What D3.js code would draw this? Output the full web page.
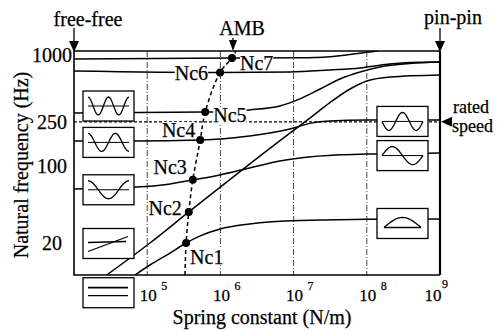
<!DOCTYPE html>
<meta charset="utf-8">
<style>
body { margin: 0; background: #fff; }
.curve { fill: none; stroke: #000; stroke-width: 1.5px; }
.grid { stroke: #333; stroke-width: 0.9px; stroke-dasharray: 6,2,1,2; }
</style>
<body>
<script src="https://cdn.jsdelivr.net/npm/d3@7"></script>
<script>

// natural frequency curves: [spring constant (N/m), frequency (Hz)]
var mode1 = [[6.8e4, 10.4], [1.09e5, 12.8], [2.05e5, 16.4], [3.4e5, 20.2], [5.3e5, 23.4], [9.9e5, 27], [2.5e6, 30], [1.22e7, 32.3], [1e8, 33], [1e9, 33.3]];
var mode2 = [[2.8e4, 10.4], [1.09e5, 20.2], [3.7e5, 38.5], [2.5e6, 104], [8.9e6, 198], [1.67e7, 270], [3.1e7, 370], [5.9e7, 494], [1e8, 583], [2.1e8, 634], [1e9, 661]];
var mode3 = [[1e4, 62], [4.2e4, 63.4], [1.5e5, 67], [4.2e5, 75], [9.9e5, 83], [2.5e6, 96], [6.5e6, 111], [1.22e7, 118], [4.3e7, 126], [1e8, 128], [1e9, 131]];
var mode4 = [[1e4, 168], [6.6e4, 168], [5.3e5, 171], [2.5e6, 186], [8.9e6, 215], [1.67e7, 242], [3.1e7, 254], [1e8, 259], [1e9, 259]];
var mode5 = [[1e4, 300], [6.2e5, 306], [2.5e6, 320], [6.5e6, 347], [1.22e7, 402], [2.3e7, 494], [4.3e7, 608], [8.1e7, 703], [1.51e8, 780], [3.9e8, 838], [1e9, 864]];
var mode6 = [[1e4, 718], [9.9e5, 695], [8.9e6, 703], [3.1e7, 733], [8.1e7, 764], [1.77e8, 821], [3.9e8, 856], [1e9, 864]];
var mode7 = [[1e4, 920], [1.44e6, 940], [1.22e7, 945], [3.1e7, 965], [5.9e7, 1010], [9.4e7, 1053], [1.42e8, 1087]];

// AMB stiffness line and critical speeds
var ambLine = [[3.28e5, 10.4], [3.4e5, 20.2], [3.7e5, 38.5], [4.2e5, 75], [5.3e5, 171], [6.2e5, 306], [9.9e5, 695], [1.44e6, 940], [1.63e6, 1087]];
var ncPoints = [[3.4e5, 20.2], [3.7e5, 38.5], [4.2e5, 75], [5.3e5, 171], [6.2e5, 306], [9.9e5, 695], [1.44e6, 940]];
var ncNames = ["Nc1", "Nc2", "Nc3", "Nc4", "Nc5", "Nc6", "Nc7"];
var ncOffsets = [[4, 21, "start"], [-7, 3, "end"], [-6, -6, "end"], [-5, -3, "end"], [8, 10, "start"], [-12, 7, "end"], [8, 12, "start"]];

var xTicks = [1e5, 1e6, 1e7, 1e8, 1e9];
var xTickExp = ["5", "6", "7", "8", "9"];
var yTicks = [20, 100, 250, 1000];
var ratedSpeed = 250;

// mode shape boxes: [side, frequency at box centre, shape]
var shapeBoxes = [
  ["L", 347, "w"], ["L", 163, "s"], ["L", 61, "u"], ["L", 20, "rigid"], ["L", 7.2, "flat"],
  ["R", 252, "p3"], ["R", 124, "p2"], ["R", 30.3, "p1"]
];

var width = 501, height = 331;
var serif = "'Liberation Serif', 'Times New Roman', Times, serif";

var x = d3.scaleLog().domain([1e4, 1e9]).range([74, 440]);
var y = d3.scaleLog().domain([10.4, 1087]).range([275, 51]);

var svg = d3.select("body").append("svg")
    .attr("width", width)
    .attr("height", height);

function label(sel, size) {
  return sel.attr("font-family", serif).attr("font-size", size)
      .style("fill", "#000").style("stroke", "#000").style("stroke-width", 0.25);
}

svg.append("defs").append("clipPath").attr("id", "plot")
  .append("rect")
    .attr("x", x(1e4)).attr("y", y(1087))
    .attr("width", x(1e9) - x(1e4)).attr("height", y(10.4) - y(1087));

// vertical grid at decades
svg.selectAll(".grid")
    .data(xTicks.slice(0, 4))
  .enter().append("line")
    .attr("class", "grid")
    .attr("x1", function(d) { return x(d); })
    .attr("x2", function(d) { return x(d); })
    .attr("y1", y(1087)).attr("y2", y(10.4));

// rated speed
svg.append("line")
    .attr("x1", x(1e4)).attr("x2", x(1e9))
    .attr("y1", y(ratedSpeed)).attr("y2", y(ratedSpeed))
    .style("stroke", "#000").style("stroke-width", 1.2)
    .style("stroke-dasharray", "3,2");

var line = d3.line()
    .x(function(d) { return x(d[0]); })
    .y(function(d) { return y(d[1]); })
    .curve(d3.curveMonotoneX);

var curves = svg.append("g").attr("clip-path", "url(#plot)");

curves.selectAll(".curve")
    .data([mode1, mode2, mode3, mode4, mode5, mode6, mode7])
  .enter().append("path")
    .attr("class", "curve")
    .attr("d", line);

curves.append("path")
    .datum(ambLine)
    .attr("d", d3.line()
        .x(function(d) { return x(d[0]); })
        .y(function(d) { return y(d[1]); })
        .curve(d3.curveCatmullRom.alpha(0.5)))
    .style("fill", "none").style("stroke", "#000")
    .style("stroke-width", 1.5).style("stroke-dasharray", "4,3");

// frame
var x0 = x(1e4), x1 = x(1e9), yTop = y(1087), yBot = y(10.4);
svg.append("path")
    .attr("d", "M" + x1 + "," + yTop + "H" + x0 + "V" + yBot + "H" + x1)
    .style("fill", "none").style("stroke", "#000").style("stroke-width", 1.6);
svg.append("line")
    .attr("x1", x1).attr("x2", x1).attr("y1", yTop).attr("y2", yBot)
    .style("stroke", "#000").style("stroke-width", 2.2);

// mode shape boxes
var bw = 51, bh = 30;
var t = d3.range(0, 1.0001, 0.02);
var shapeFn = {
  w: function(s) { return Math.cos(4 * Math.PI * s); },
  s: function(s) { return Math.cos(3 * Math.PI * s); },
  u: function(s) { return Math.cos(2 * Math.PI * s); },
  p3: function(s) { return -Math.sin(3 * Math.PI * s); },
  p2: function(s) { return Math.sin(2 * Math.PI * s); }
};

shapeBoxes.forEach(function(b) {
  var bx = b[0] === "L" ? x0 + 9 : x1 - 63;
  var cy = y(b[1]);
  var g = svg.append("g").attr("transform", "translate(" + bx + "," + (cy - bh / 2) + ")");
  g.append("rect").attr("width", bw).attr("height", bh)
      .style("fill", "#fff").style("stroke", "#000").style("stroke-width", 1.3);
  var st = function(sel) { return sel.style("fill", "none").style("stroke", "#000").style("stroke-width", 1.3); };
  var m = bh / 2, a = 9, l = 5, r = bw - 5;
  if (shapeFn[b[2]]) {
    st(g.append("line").attr("x1", l).attr("x2", r).attr("y1", m).attr("y2", m)).style("stroke-width", 1);
    st(g.append("path").attr("d", d3.line()
        .x(function(s) { return l + s * (r - l); })
        .y(function(s) { return m - a * shapeFn[b[2]](s); })(t)));
  } else if (b[2] === "rigid") {
    st(g.append("line").attr("x1", l).attr("x2", r - 3).attr("y1", m - 1).attr("y2", m - 2));
    st(g.append("line").attr("x1", l).attr("x2", r - 1).attr("y1", m + 8).attr("y2", m - 7));
  } else if (b[2] === "flat") {
    st(g.append("line").attr("x1", l).attr("x2", r - 1).attr("y1", m - 5).attr("y2", m - 5)).style("stroke-width", 1.8);
    st(g.append("line").attr("x1", l).attr("x2", r - 1).attr("y1", m + 3).attr("y2", m + 3));
  } else if (b[2] === "p1") {
    st(g.append("line").attr("x1", l + 2).attr("x2", r - 2).attr("y1", m + 4).attr("y2", m + 4));
    st(g.append("path").attr("d", d3.line()
        .x(function(s) { return l + 2 + s * (r - l - 4); })
        .y(function(s) { return m + 4 - 10 * Math.sin(Math.PI * s); })(t)));
  }
});

// critical speed labels
ncPoints.forEach(function(p, i) {
  var o = ncOffsets[i];
  var tx = label(svg.append("text"), 20)
      .attr("x", x(p[0]) + o[0]).attr("y", y(p[1]) + o[1])
      .attr("text-anchor", o[2])
      .text(ncNames[i]);
  var bb = tx.node().getBBox();
  svg.insert("rect", function() { return tx.node(); })
      .attr("x", bb.x).attr("y", bb.y + 3).attr("width", bb.width).attr("height", bb.height - 6)
      .style("fill", "#fff");
});

svg.selectAll(".nc")
    .data(ncPoints)
  .enter().append("circle")
    .attr("cx", function(d) { return x(d[0]); })
    .attr("cy", function(d) { return y(d[1]); })
    .attr("r", 4)
    .style("fill", "#000");

// axis tick labels
label(svg.selectAll(".ytick")
    .data(yTicks)
  .enter().append("text"), 20)
    .attr("x", 52)
    .attr("y", function(d) { return y(d) + 7; })
    .attr("text-anchor", "middle")
    .text(function(d) { return d; });

var xlab = svg.selectAll(".xtick")
    .data(xTicks)
  .enter().append("g")
    .attr("transform", function(d, i) { return "translate(" + (x(d) + (i === 4 ? -7 : 1)) + ",301)"; });
label(xlab.append("text"), 17)
    .attr("text-anchor", "middle")
    .text("10");
label(xlab.append("text"), 12)
    .attr("x", function(d, i) { return i === 4 ? 9 : 13; })
    .attr("y", function(d, i) { return i === 4 ? -13 : -11; })
    .text(function(d, i) { return xTickExp[i]; });

label(svg.append("text"), 20)
    .attr("x", 262).attr("y", 324)
    .attr("text-anchor", "middle")
    .text("Spring constant (N/m)");

label(svg.append("text"), 20)
    .attr("transform", "translate(28,165) rotate(-90)")
    .attr("text-anchor", "middle")
    .text("Natural frequency (Hz)");

// annotations with arrows
function downArrow(ax, yStart, yTip, hw) {
  svg.append("line").attr("x1", ax).attr("x2", ax).attr("y1", yStart).attr("y2", yTip - 8)
      .style("stroke", "#000").style("stroke-width", 1.3);
  svg.append("path")
      .attr("d", "M" + (ax - hw) + "," + (yTip - 11) + "L" + (ax + hw) + "," + (yTip - 11) + "L" + ax + "," + yTip + "Z")
      .style("fill", "#000");
}

label(svg.append("text"), 20).attr("x", 88).attr("y", 26).attr("text-anchor", "middle").text("free-free");
downArrow(x0, 28, yTop + 1, 5);

label(svg.append("text"), 20).attr("x", 453).attr("y", 24).attr("text-anchor", "middle").text("pin-pin");
downArrow(x1, 28, yTop + 1, 5);

label(svg.append("text"), 20).attr("x", 242).attr("y", 35).attr("text-anchor", "middle").text("AMB");
downArrow(233, 38, yTop, 4);

var ry = y(ratedSpeed);
svg.append("path")
    .attr("d", "M" + (x1 + 1) + "," + ry + "L" + (x1 + 12) + "," + (ry - 5) + "L" + (x1 + 12) + "," + (ry + 5) + "Z")
    .style("fill", "#000");
label(svg.append("text"), 18).attr("x", 453).attr("y", 113).text("rated");
label(svg.append("text"), 18).attr("x", 452).attr("y", 132).text("speed");

</script>
